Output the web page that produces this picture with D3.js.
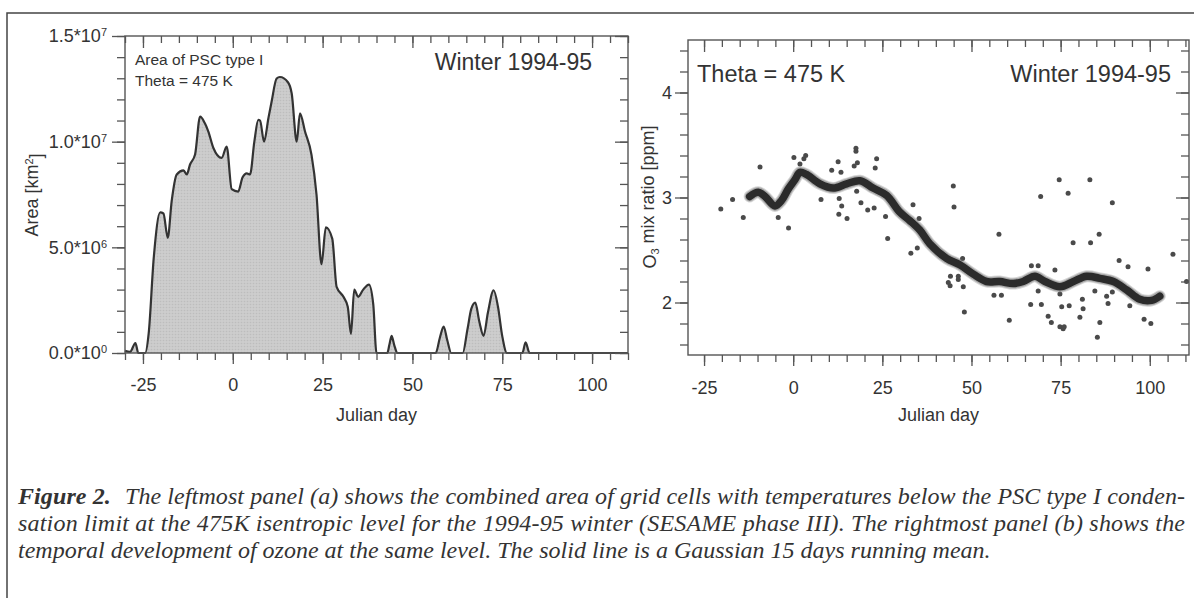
<!DOCTYPE html>
<html>
<head>
<meta charset="utf-8">
<script src="https://cdn.jsdelivr.net/npm/d3@7"></script>
<style>
  body { margin: 0; background: #fff; }
  svg text { font-family: "Liberation Sans", Arial, Helvetica, sans-serif; fill: #333; }
  .caption text { font-family: "Liberation Serif", "Times New Roman", serif; font-style: italic; fill: #333; }
  .tick line { stroke: #555; stroke-width: 1.3; }
</style>
</head>
<body>
<script>
// ******************* //
//        data         //
// ******************* //

// panel (a): area of PSC type I, in units of 10^6 km^2
const pscDay = [-30, -28.6, -27.1, -26.3, -24.4, -23.4, -22.0, -20.2, -19.3, -18.1, -17.0, -15.6,
  -13.7, -12.8, -11.9, -10.5, -9.1, -7.8, -6.8, -5.4, -3.1, -1.7, -0.3, 1.5, 2.7, 3.9, 4.8, 6.0,
  7.1, 7.6, 8.7, 9.9, 10.8, 12.2, 13.1, 15.4, 16.4, 17.8, 18.7, 20.1, 21.9, 23.3, 24.7, 25.9,
  27.7, 28.9, 30.8, 32.0, 32.9, 33.8, 34.9, 36.3, 37.9, 39.1, 40.0, 43.0, 43.6, 44.2, 44.9, 45.8,
  56.5, 57.6, 58.7, 59.7, 60.8, 64.0, 65.3, 66.4, 67.5, 68.6, 69.8, 71.0, 72.6, 73.8, 75.0, 76.3,
  80.6, 81.5, 82.6, 110];
const pscArea = [0.1, 0.05, 0.47, 0.0, 0.0, 0.94, 4.5, 6.65, 6.6, 5.45, 7.2, 8.45,
  8.64, 8.45, 8.92, 9.39, 11.19, 10.88, 10.48, 9.7, 9.23, 9.77, 7.75, 7.64, 8.3, 8.5, 8.45, 10.0,
  11.03, 11.0, 10.0, 11.1, 11.89, 12.99, 13.06, 12.8, 12.28, 10.0, 11.34, 10.48, 9.39, 7.5, 4.2, 5.95,
  5.4, 3.13, 2.66, 2.19, 0.9, 3.0, 2.66, 3.0, 3.24, 2.3, 0.0, 0.0, 0.4, 0.81, 0.4, 0.0,
  0.0, 0.7, 1.25, 0.6, 0.0, 0.0, 1.1, 2.1, 2.38, 1.5, 0.81, 1.9, 2.97, 2.2, 0.8, 0.0,
  0.0, 0.5, 0.0, 0.0];

// panel (b): ozone measurements [ppm]
const o3Day = [-20.3, -17.0, -14.0, -9.3, -4.2, -1.3, 0.2, 1.9, 3.0, 3.5, 7.8, 10.8, 12.6, 12.8,
  12.9, 13.4, 13.6, 15.1, 17.1, 17.6, 17.6, 17.8, 18.0, 19.0, 20.9, 22.7, 23.0, 23.4, 25.9, 26.5,
  33.0, 33.6, 34.8, 35.3, 43.5, 44.0, 44.1, 44.9, 45.1, 46.3, 46.3, 47.5, 47.7, 48.0, 56.3, 57.7,
  58.4, 60.6, 66.6, 66.8, 68.7, 68.7, 69.4, 69.6, 71.5, 72.4, 73.4, 74.6, 74.8, 74.8, 75.3, 75.7,
  76.0, 77.1, 77.4, 78.5, 80.4, 81.1, 81.3, 83.2, 83.4, 84.6, 85.3, 85.8, 86.0, 87.9, 88.3, 89.5,
  89.5, 91.4, 93.9, 94.4, 98.4, 99.5, 100.3, 106.5, 110.3];
const o3Ppm = [2.89, 2.98, 2.81, 3.29, 2.81, 2.71, 3.38, 3.32, 3.37, 3.40, 2.98, 3.26, 3.34, 2.84,
  2.99, 3.24, 2.92, 2.80, 3.30, 3.44, 3.47, 3.06, 3.33, 2.95, 2.88, 2.90, 3.28, 3.37, 2.82, 2.61,
  2.47, 2.93, 2.52, 2.80, 2.19, 2.16, 2.25, 3.11, 2.91, 2.25, 2.22, 2.42, 2.15, 1.91, 2.07, 2.65,
  2.07, 1.83, 1.98, 2.35, 2.35, 2.11, 3.01, 1.98, 1.87, 1.81, 2.31, 3.17, 2.08, 1.77, 1.96, 1.75,
  1.77, 3.04, 1.97, 2.57, 1.86, 2.03, 1.94, 3.17, 2.57, 2.11, 1.67, 2.65, 1.81, 2.06, 1.99, 2.10,
  2.95, 2.40, 2.34, 1.97, 1.84, 2.32, 1.80, 2.46, 2.20];

// panel (b): Gaussian 15 days running mean
const meanDay = [-12.2, -9.8, -7.9, -5.1, -3.3, -1.4, 0.5, 1.9, 3.7, 7.5, 11.2, 15.0, 18.7, 22.4,
  26.2, 29.9, 32.7, 35.5, 38.3, 43.0, 46.7, 50.5, 54.2, 57.9, 61.7, 64.5, 67.8, 70.6, 74.8, 78.6,
  82.3, 86.0, 89.8, 93.5, 97.2, 100.5, 102.8];
const meanPpm = [3.01, 3.05, 3.01, 2.92, 2.97, 3.08, 3.17, 3.24, 3.22, 3.13, 3.09, 3.13, 3.16, 3.09,
  3.02, 2.86, 2.78, 2.69, 2.56, 2.42, 2.36, 2.27, 2.2, 2.2, 2.18, 2.2, 2.25, 2.2, 2.15, 2.2,
  2.25, 2.23, 2.2, 2.12, 2.03, 2.02, 2.06];

// tick labels
const dayTicks = [-25, 0, 25, 50, 75, 100];
const areaTicks = [0, 5, 10, 15];
const areaTickMant = ["0.0", "5.0", "1.0", "1.5"];
const areaTickExp = ["0", "6", "7", "7"];
const o3Ticks = [2, 3, 4];

const captionLines = [
  "The leftmost panel (a) shows the combined area of grid cells with temperatures below the PSC type I conden-",
  "sation limit at the 475K isentropic level for the 1994-95 winter (SESAME phase III). The rightmost panel (b) shows the",
  "temporal development of ozone at the same level. The solid line is a Gaussian 15 days running mean."
];

// ******************* //
//        page         //
// ******************* //

const svg = d3.select("body").append("svg")
    .attr("width", 1194)
    .attr("height", 598);

// dotted halftone used for the grey area
const pat = svg.append("defs").append("pattern")
    .attr("id", "halftone")
    .attr("width", 3).attr("height", 3)
    .attr("patternUnits", "userSpaceOnUse");
pat.append("rect").attr("width", 3).attr("height", 3).attr("fill", "#cdcdcd");
pat.append("circle").attr("cx", 1.5).attr("cy", 1.5).attr("r", 0.8).attr("fill", "#bdbdbd");

// page frame (top and left rule)
svg.append("path")
    .attr("d", "M7,598 L7,13 L1194,13")
    .attr("fill", "none")
    .attr("stroke", "#444")
    .attr("stroke-width", 1.5);

const plainNum = d => String(d);   // hyphen, not the unicode minus

function drawAxes(g, x, y, o) {
  const [xl, xr] = x.range();
  const [yb, yt] = y.range();

  // bottom
  g.append("g").attr("transform", `translate(0,${yb})`)
      .call(d3.axisBottom(x).tickValues(o.xMinor).tickSize(7).tickFormat(""));
  g.append("g").attr("class", "xaxis").attr("transform", `translate(0,${yb})`)
      .call(d3.axisBottom(x).tickValues(dayTicks).tickSize(11).tickPadding(o.xPad).tickFormat(plainNum));
  // top, ticks hang into the plot
  g.append("g").attr("transform", `translate(0,${yt})`)
      .call(d3.axisBottom(x).tickValues(o.xMinor).tickSize(7).tickFormat(""));
  g.append("g").attr("transform", `translate(0,${yt})`)
      .call(d3.axisBottom(x).tickValues(dayTicks).tickSize(12).tickFormat(""));
  // left
  g.append("g").attr("transform", `translate(${xl},0)`)
      .call(d3.axisLeft(y).tickValues(o.yMinor).tickSize(8).tickFormat(""));
  g.append("g").attr("class", "yaxis").attr("transform", `translate(${xl},0)`)
      .call(d3.axisLeft(y).tickValues(o.yMajor).tickSize(13).tickPadding(o.yPad).tickFormat(o.yFormat));
  // right, ticks point inward
  g.append("g").attr("transform", `translate(${xr},0)`)
      .call(d3.axisLeft(y).tickValues(o.yMinor).tickSize(8).tickFormat(""));
  g.append("g").attr("transform", `translate(${xr},0)`)
      .call(d3.axisLeft(y).tickValues(o.yMajor).tickSize(13).tickFormat(""));

  g.selectAll(".domain").remove();
  g.selectAll(".tick text")
      .attr("font-size", 18)
      .attr("font-family", null)
      .attr("fill", "#333");

  g.append("rect")
      .attr("x", xl).attr("y", yt)
      .attr("width", xr - xl).attr("height", yb - yt)
      .attr("fill", "none")
      .attr("stroke", "#555")
      .attr("stroke-width", 1.4);

  g.append("text")
      .attr("x", (xl + xr) / 2).attr("y", 421)
      .attr("text-anchor", "middle")
      .attr("font-size", 18)
      .text("Julian day");
}

// ******************* //
//   panel (a): area   //
// ******************* //

const ga = svg.append("g");
const xa = d3.scaleLinear().domain([-30, 110]).range([125, 628]);
const ya = d3.scaleLinear().domain([0, 15]).range([353, 36]);

const areaData = pscDay.map((d, i) => ({ day: d, v: pscArea[i] }));

ga.append("path")
    .datum(areaData)
    .attr("fill", "url(#halftone)")
    .attr("d", d3.area().curve(d3.curveMonotoneX)
        .x(d => xa(d.day)).y0(ya(0)).y1(d => ya(d.v)));
ga.append("path")
    .datum(areaData)
    .attr("fill", "none")
    .attr("stroke", "#333")
    .attr("stroke-width", 2.2)
    .attr("stroke-linejoin", "round")
    .attr("d", d3.line().curve(d3.curveMonotoneX)
        .x(d => xa(d.day)).y(d => ya(d.v)));

drawAxes(ga, xa, ya, {
  xMinor: d3.range(-30, 111, 5),
  yMinor: d3.range(0, 16, 1),
  yMajor: areaTicks,
  yFormat: d => areaTickMant[areaTicks.indexOf(d)] + "*10",
  xPad: 14,
  yPad: 5
});

// superscript exponents on the area ticks
ga.selectAll(".yaxis .tick text").each(function (d) {
  d3.select(this).append("tspan")
      .attr("dy", "-0.55em")
      .attr("font-size", 11)
      .text(areaTickExp[areaTicks.indexOf(d)]);
});

ga.append("text").attr("x", 135).attr("y", 65).attr("font-size", 15.5).text("Area of PSC type I");
ga.append("text").attr("x", 135).attr("y", 86).attr("font-size", 15.5).text("Theta = 475 K");
ga.append("text").attr("x", 592).attr("y", 70).attr("font-size", 23)
    .attr("text-anchor", "end").text("Winter 1994-95");

const ylabA = ga.append("text")
    .attr("transform", "translate(38,195) rotate(-90)")
    .attr("text-anchor", "middle")
    .attr("font-size", 18);
ylabA.append("tspan").text("Area [km");
ylabA.append("tspan").attr("dy", "-0.5em").attr("font-size", 11).text("2");
ylabA.append("tspan").attr("dy", "0.5em").text("]");

// ******************* //
//   panel (b): ozone  //
// ******************* //

const gb = svg.append("g");
const xb = d3.scaleLinear().domain([-29.5, 111]).range([688, 1189]);
const yb = d3.scaleLinear().domain([1.5, 4.5]).range([355, 40]);

gb.append("g").selectAll("circle")
    .data(o3Day.map((d, i) => ({ day: d, v: o3Ppm[i] })))
    .join("circle")
    .attr("cx", d => xb(d.day))
    .attr("cy", d => yb(d.v))
    .attr("r", 2.5)
    .attr("fill", "#4a4a4a");

const meanData = meanDay.map((d, i) => ({ day: d, v: meanPpm[i] }));
const meanLine = d3.line().curve(d3.curveCatmullRom)
    .x(d => xb(d.day)).y(d => yb(d.v));

// soft grey halo, then the dark core
[[12, "#777", 0.3], [10, "#555", 0.35], [7.5, "#2b2b2b", 1]].forEach(([w, c, op]) => {
  gb.append("path")
      .datum(meanData)
      .attr("fill", "none")
      .attr("stroke", c)
      .attr("stroke-opacity", op)
      .attr("stroke-width", w)
      .attr("stroke-linecap", "round")
      .attr("stroke-linejoin", "round")
      .attr("d", meanLine);
});

drawAxes(gb, xb, yb, {
  xMinor: d3.range(-25, 111, 5),
  yMinor: d3.range(8, 23).map(d => d / 5),
  yMajor: o3Ticks,
  yFormat: plainNum,
  xPad: 15,
  yPad: 3
});

gb.append("text").attr("x", 697).attr("y", 82).attr("font-size", 23.5).text("Theta = 475 K");
gb.append("text").attr("x", 1171).attr("y", 82).attr("font-size", 23.5)
    .attr("text-anchor", "end").text("Winter 1994-95");

const ylabB = gb.append("text")
    .attr("transform", "translate(656,197) rotate(-90)")
    .attr("text-anchor", "middle")
    .attr("font-size", 18);
ylabB.append("tspan").text("O");
ylabB.append("tspan").attr("dy", "0.3em").attr("font-size", 11).text("3");
ylabB.append("tspan").attr("dy", "-0.3em").text(" mix ratio [ppm]");

// ******************* //
//       caption       //
// ******************* //

const cap = svg.append("g").attr("class", "caption");
const line1 = cap.append("text")
    .attr("x", 18).attr("y", 504)
    .attr("font-size", 24)
    .attr("textLength", 1167)
    .attr("lengthAdjust", "spacing");
line1.append("tspan").attr("font-weight", "bold").text("Figure 2.");
line1.append("tspan").attr("dx", 8).text(" " + captionLines[0]);

cap.append("text")
    .attr("x", 18).attr("y", 531)
    .attr("font-size", 24)
    .attr("textLength", 1167)
    .attr("lengthAdjust", "spacing")
    .text(captionLines[1]);
cap.append("text")
    .attr("x", 18).attr("y", 558)
    .attr("font-size", 24)
    .text(captionLines[2]);
</script>
</body>
</html>
